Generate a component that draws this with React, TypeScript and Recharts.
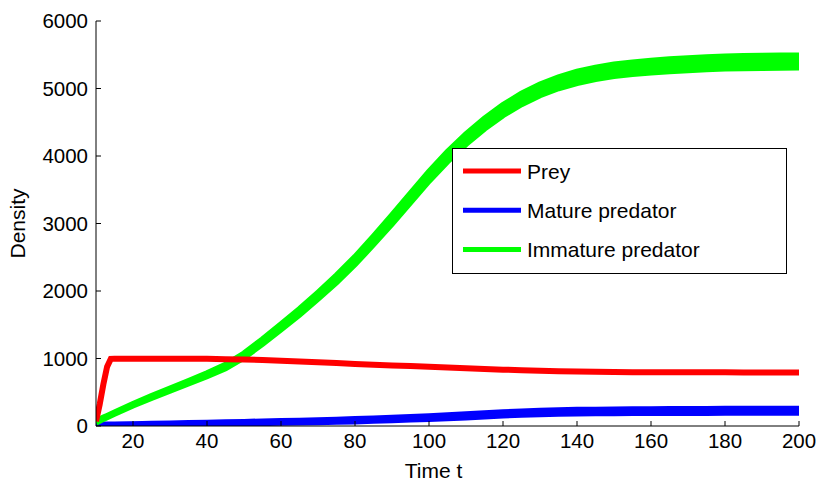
import React from 'react';
import { ComposedChart, Line, Area, XAxis, YAxis, Legend } from 'recharts';

// Simulated population densities over time
const time = [10, 11, 12, 13, 14, 15, 20, 25, 30, 35, 40, 45, 50, 55, 60, 65, 70, 75, 80, 85, 90, 95, 100, 105, 110, 115, 120, 125, 130, 135, 140, 145, 150, 155, 160, 165, 170, 175, 180, 185, 190, 195, 200];

const prey = [70, 320, 620, 880, 995, 998, 998, 998, 998, 997, 995, 990, 985, 977, 967, 956, 945, 932, 920, 909, 898, 888, 878, 866, 855, 845, 835, 826, 818, 812, 807, 803, 800, 798, 796, 795, 795, 795, 795, 794, 794, 794, 794];

const mature = [15, 15, 16, 16, 17, 18, 22, 26, 30, 35, 40, 45, 50, 55, 60, 65, 72, 78, 85, 95, 105, 115, 125, 137, 150, 165, 180, 190, 200, 206, 212, 215, 218, 220, 222, 222, 222, 223, 225, 225, 225, 225, 225];

// half-width of the fluctuation band around the mature predator path
const matureSpread = [5, 5, 5, 5, 5, 5, 5, 6, 7, 8, 9, 10, 11, 12, 13, 14, 15, 16, 17, 18, 19, 20, 21, 22, 23, 24, 25, 25, 26, 26, 27, 27, 28, 28, 28, 29, 29, 29, 30, 30, 30, 30, 30];

const immature = [60, 88, 115, 140, 165, 190, 315, 430, 540, 648, 760, 880, 1045, 1250, 1470, 1690, 1930, 2180, 2450, 2750, 3060, 3380, 3700, 3990, 4250, 4480, 4680, 4845, 4980, 5085, 5165, 5225, 5270, 5300, 5325, 5345, 5360, 5375, 5385, 5390, 5395, 5398, 5400];

// half-width of the fluctuation band around the immature predator path
const immatureSpread = [10, 10, 10, 10, 10, 10, 12, 14, 16, 18, 22, 26, 30, 34, 38, 42, 46, 50, 54, 58, 62, 65, 68, 70, 72, 74, 76, 78, 80, 82, 84, 85, 86, 87, 88, 88, 89, 89, 90, 90, 90, 90, 90];

const timeTicks = [20, 40, 60, 80, 100, 120, 140, 160, 180, 200];
const densityTicks = [0, 1000, 2000, 3000, 4000, 5000, 6000];

const seriesNames = ['Prey', 'Mature predator', 'Immature predator'];
const seriesColors = ['#ff0000', '#0000ff', '#00ff00'];

const rows = time.map((t, i) => ({
  t,
  prey: prey[i],
  mature: [mature[i] - matureSpread[i], mature[i] + matureSpread[i]],
  immature: [immature[i] - immatureSpread[i], immature[i] + immatureSpread[i]],
}));

const FONT = '"Liberation Sans", Arial, Helvetica, sans-serif';
const TICK = 5;

const BottomTick = (props: any) => {
  const { x, y, payload } = props;
  return (
    <g>
      <line x1={x} y1={y} x2={x} y2={y - TICK} stroke="#000" />
      <text x={x} y={y + 22} textAnchor="middle" fontSize={20.5} fontFamily={FONT} fill="#000">
        {payload.value}
      </text>
    </g>
  );
};

const TopTick = (props: any) => {
  const { x, y } = props;
  return <line x1={x} y1={y} x2={x} y2={y + TICK} stroke="#000" />;
};

const LeftTick = (props: any) => {
  const { x, y, payload } = props;
  return (
    <g>
      <line x1={x} y1={y} x2={x + TICK} y2={y} stroke="#000" />
      <text x={x - 8} y={y + 7} textAnchor="end" fontSize={20.5} fontFamily={FONT} fill="#000">
        {payload.value}
      </text>
    </g>
  );
};

const RightTick = (props: any) => {
  const { x, y } = props;
  return <line x1={x} y1={y} x2={x - TICK} y2={y} stroke="#000" />;
};

const TimeLabel = (props: any) => {
  const { viewBox } = props;
  const cx = viewBox.x + viewBox.width / 2 - 14;
  return (
    <text x={cx} y={viewBox.y + 52} textAnchor="middle" fontSize={21} fontFamily={FONT} fill="#000">
      Time t
    </text>
  );
};

const DensityLabel = (props: any) => {
  const { viewBox } = props;
  const x = viewBox.x + 25;
  const cy = viewBox.y + viewBox.height / 2;
  return (
    <text x={x} y={cy} transform={`rotate(-90, ${x}, ${cy})`} textAnchor="middle" fontSize={21} fontFamily={FONT} fill="#000">
      Density
    </text>
  );
};

const LegendBox = (props: any) => {
  const payload: any[] = (props.payload ?? [])
    .slice()
    .sort((a: any, b: any) => seriesNames.indexOf(a.value) - seriesNames.indexOf(b.value));
  return (
    <svg width={335} height={126} style={{ display: 'block' }}>
      <rect x={0.5} y={0.5} width={334} height={125} fill="#fff" stroke="#000" />
      {payload.map((p: any, i: number) => {
        const cy = 23 + i * 39.2;
        const color = seriesColors[seriesNames.indexOf(p.value)] ?? p.color;
        return (
          <g key={p.value}>
            <line x1={11} x2={69} y1={cy} y2={cy} stroke={color} strokeWidth={5} />
            <text x={75} y={cy + 8} fontSize={21} fontFamily={FONT} fill="#000">
              {p.value}
            </text>
          </g>
        );
      })}
    </svg>
  );
};

export default function App() {
  return (
    <div style={{ position: 'absolute', left: 0, top: 0, background: '#fff', fontFamily: FONT }}>
      <ComposedChart width={824} height={484} data={rows} margin={{ top: 21, right: 25, bottom: 0, left: 0 }}>
        <XAxis
          dataKey="t"
          type="number"
          domain={[10, 200]}
          ticks={timeTicks}
          height={58}
          tickLine={false}
          tickSize={0}
          tickMargin={0}
          axisLine={{ stroke: '#000' }}
          tick={<BottomTick />}
          label={<TimeLabel />}
          allowDataOverflow
        />
        <XAxis
          xAxisId="top"
          dataKey="t"
          type="number"
          orientation="top"
          domain={[10, 200]}
          ticks={timeTicks}
          height={0}
          tickLine={false}
          tickSize={0}
          tickMargin={0}
          axisLine={{ stroke: '#000' }}
          tick={<TopTick />}
          allowDataOverflow
        />
        <YAxis
          type="number"
          domain={[0, 6000]}
          ticks={densityTicks}
          width={96}
          tickLine={false}
          tickSize={0}
          tickMargin={0}
          axisLine={{ stroke: '#000' }}
          tick={<LeftTick />}
          label={<DensityLabel />}
          allowDataOverflow
        />
        <YAxis
          yAxisId="right"
          type="number"
          orientation="right"
          domain={[0, 6000]}
          ticks={densityTicks}
          width={0}
          tickLine={false}
          tickSize={0}
          tickMargin={0}
          axisLine={{ stroke: '#000' }}
          tick={<RightTick />}
          allowDataOverflow
        />
        <Line
          name={seriesNames[0]}
          dataKey="prey"
          type="linear"
          stroke={seriesColors[0]}
          strokeWidth={6}
          dot={false}
          isAnimationActive={false}
        />
        <Area
          name={seriesNames[1]}
          dataKey="mature"
          type="linear"
          stroke={seriesColors[1]}
          strokeWidth={6}
          fill={seriesColors[1]}
          fillOpacity={1}
          dot={false}
          activeDot={false}
          isAnimationActive={false}
        />
        <Area
          name={seriesNames[2]}
          dataKey="immature"
          type="linear"
          stroke={seriesColors[2]}
          strokeWidth={6}
          fill={seriesColors[2]}
          fillOpacity={1}
          dot={false}
          activeDot={false}
          isAnimationActive={false}
        />
        <Legend
          layout="vertical"
          align="center"
          verticalAlign="middle"
          content={<LegendBox />}
          wrapperStyle={{ left: 452, top: 148, width: 335, height: 126 }}
        />
      </ComposedChart>
    </div>
  );
}
